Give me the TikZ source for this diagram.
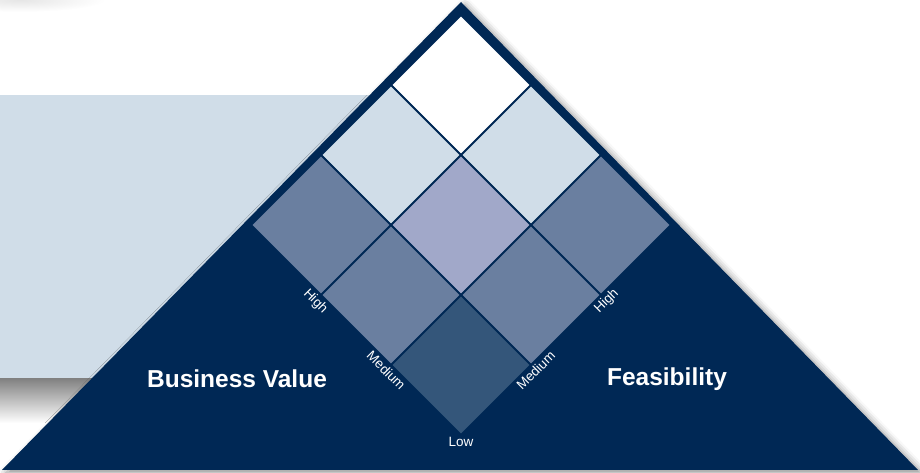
\documentclass[tikz,border=0pt]{standalone}
\usepackage{fontspec}
\setmainfont{Liberation Sans}
\usetikzlibrary{shapes.geometric,shadows.blur}
\definecolor{Navy}{HTML}{002855}
\definecolor{Mist}{HTML}{D0DDE8}
\definecolor{Slate}{HTML}{6A7FA0}
\definecolor{Lavender}{HTML}{A1A8C9}
\definecolor{Steel}{HTML}{34567A}

\tikzset{
  cell/.style={diamond, draw=Navy, line width=1.5pt, minimum width=140pt,
    minimum height=140pt, inner sep=0pt},
  level/.style={text=white, font=\fontsize{13.5}{15}\selectfont, anchor=north, inner sep=1.5pt},
  axis/.style={text=white, font=\fontsize{24.5}{28}\selectfont\bfseries}
}

\begin{document}
\begin{tikzpicture}[x=1pt, y=1pt]
      \useasboundingbox (0,0) rectangle (920,473);

      % backdrop
      \shade[inner color=black!10, outer color=white] (20,473) ellipse (85 and 12);
      \shade[top color=black!50, bottom color=white] (0,95) rectangle (400,50);
      \fill[Mist] (0,378) rectangle (400,95);

      % big triangle
      \fill[Navy, blur shadow={shadow xshift=4pt, shadow yshift=-3pt,
        shadow blur radius=7pt, shadow opacity=45}]
        (2,3) -- (461,471) -- (918,3) -- cycle;

      % the grid
      \node (top) [cell, fill=white] at (461,388) {};
      \node (upL) [cell, fill=Mist] at (391,318) {};
      \node (upR) [cell, fill=Mist] at (531,318) {};
      \node (midL) [cell, fill=Slate] at (321,248) {};
      \node (mid) [cell, fill=Lavender] at (461,248) {};
      \node (midR) [cell, fill=Slate] at (601,248) {};
      \node (lowL) [cell, fill=Slate] at (391,178) {};
      \node (lowR) [cell, fill=Slate] at (531,178) {};
      \node (bottom) [cell, fill=Steel] at (461,108) {};

      % levels
      \node (highL) [level, rotate=-45] at (midL.south) {High};
      \node (mediumL) [level, rotate=-45] at (lowL.south) {Medium};
      \node (low) [level] at (bottom.south) {Low};
      \node (mediumR) [level, rotate=45] at (lowR.south) {Medium};
      \node (highR) [level, rotate=45] at (midR.south) {High};

      \node (value) [axis] at (237,94) {Business Value};
      \node (feas) [axis] at (667,94) {Feasibility};
    \end{tikzpicture}
\end{document}
